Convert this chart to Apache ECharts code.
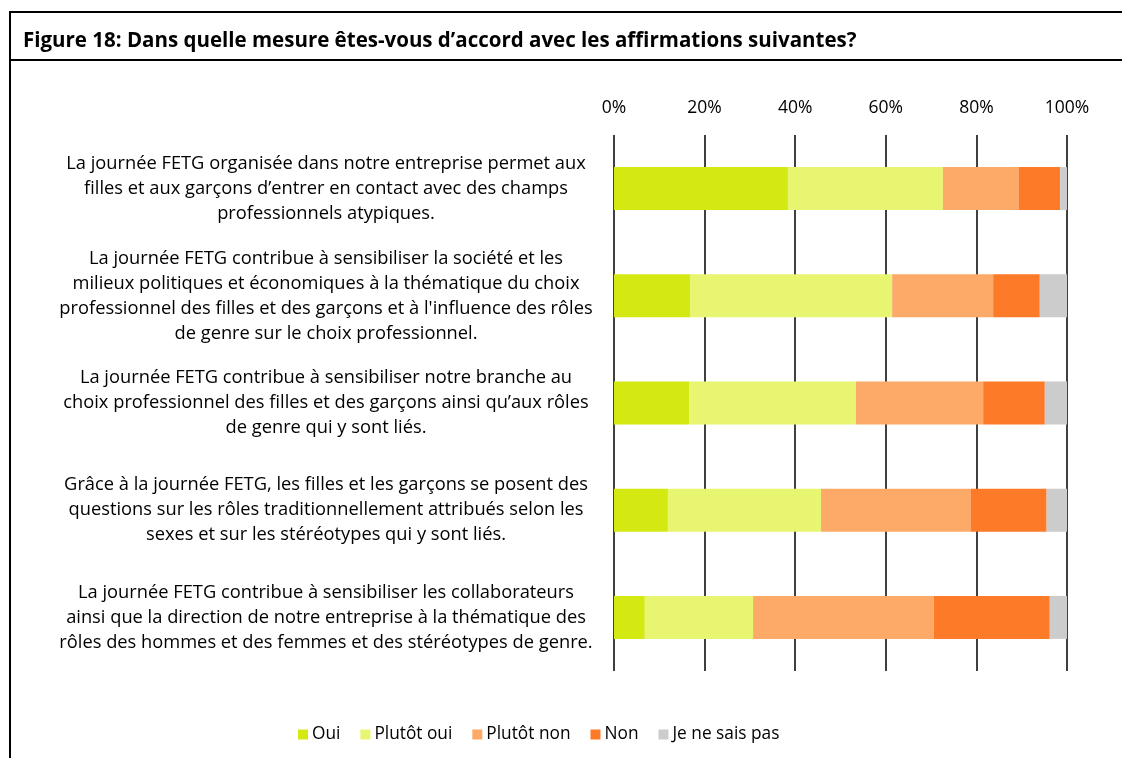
<!DOCTYPE html>
<html lang="fr">
<head>
<meta charset="utf-8" />
<title>Figure 18</title>
<script src="https://cdn.jsdelivr.net/npm/echarts@6/dist/echarts.min.js"></script>
<style>
  html, body { margin: 0; padding: 0; background: #fff; }
  #chart { width: 1122px; height: 758px; }
</style>
</head>
<body>
<div id="chart"></div>
<script>
// statements, top to bottom
const categories = [
  'La journée FETG organisée dans notre entreprise permet aux\nfilles et aux garçons d’entrer en contact avec des champs\nprofessionnels atypiques.',
  'La journée FETG contribue à sensibiliser la société et les\nmilieux politiques et économiques à la thématique du choix\nprofessionnel des filles et des garçons et à l\'influence des rôles\nde genre sur le choix professionnel.',
  'La journée FETG contribue à sensibiliser notre branche au\nchoix professionnel des filles et des garçons ainsi qu’aux rôles\nde genre qui y sont liés.',
  'Grâce à la journée FETG, les filles et les garçons se posent des\nquestions sur les rôles traditionnellement attribués selon les\nsexes et sur les stéréotypes qui y sont liés.',
  'La journée FETG contribue à sensibiliser les collaborateurs\nainsi que la direction de notre entreprise à la thématique des\nrôles des hommes et des femmes et des stéréotypes de genre.'
]
const oui = [38.4, 16.9, 16.6, 11.9, 6.8]
const plutotOui = [34.2, 44.5, 36.8, 33.8, 23.9]
const plutotNon = [16.8, 22.3, 28.1, 33.0, 39.9]
const non = [9.1, 10.3, 13.6, 16.8, 25.6]
const nsp = [1.5, 6.0, 4.9, 4.5, 3.8]

const seriesNames = ['Oui', 'Plutôt oui', 'Plutôt non', 'Non', 'Je ne sais pas']
const seriesData = [oui, plutotOui, plutotNon, non, nsp]
const colors = ['#d4e811', '#e8f570', '#fdaa69', '#fd7a28', '#cccccc']

const font = '"Open Sans", Lato, sans-serif'
const chart = echarts.init(document.getElementById('chart'))
chart.setOption({
  animation: false,
  textStyle: { fontFamily: font, color: '#000' },
  title: {
    text: 'Figure 18: Dans quelle mesure êtes-vous d’accord avec les affirmations suivantes?',
    left: 18, top: 26,
    textStyle: { fontFamily: font, fontSize: 20.5, fontWeight: 'bold', color: '#000' }
  },
  graphic: [
    { type: 'line', shape: { x1: 9, y1: 12, x2: 1122, y2: 12 }, style: { stroke: '#000', lineWidth: 2 } },
    { type: 'line', shape: { x1: 9, y1: 60, x2: 1122, y2: 60 }, style: { stroke: '#000', lineWidth: 2 } },
    { type: 'line', shape: { x1: 10, y1: 11, x2: 10, y2: 758 }, style: { stroke: '#000', lineWidth: 2 } }
  ],
  legend: {
    data: seriesNames,
    bottom: 10,
    left: 293,
    icon: 'rect',
    itemWidth: 10, itemHeight: 10, itemGap: 20,
    textStyle: { fontFamily: font, fontSize: 17.3, color: '#000', padding: [0, 0, 0, -1] }
  },
  grid: { left: 614, right: 55, top: 135, bottom: 87 },
  xAxis: {
    type: 'value',
    position: 'top',
    min: 0, max: 100, interval: 20,
    axisLine: { show: false },
    axisTick: { show: false },
    axisLabel: { formatter: '{value}%', fontSize: 17.5, color: '#000', margin: 18 },
    splitLine: { show: true, lineStyle: { color: '#000', width: 1.5 } }
  },
  yAxis: {
    type: 'category',
    inverse: true,
    data: categories,
    axisLine: { show: false },
    axisTick: { show: false },
    axisLabel: { align: 'center', margin: 288, fontSize: 18.3, lineHeight: 25, color: '#000' }
  },
  series: seriesNames.map((name, i) => ({
    name,
    type: 'bar',
    stack: 'total',
    barWidth: 43,
    data: seriesData[i],
    itemStyle: { color: colors[i] }
  }))
})
</script>
</body>
</html>
